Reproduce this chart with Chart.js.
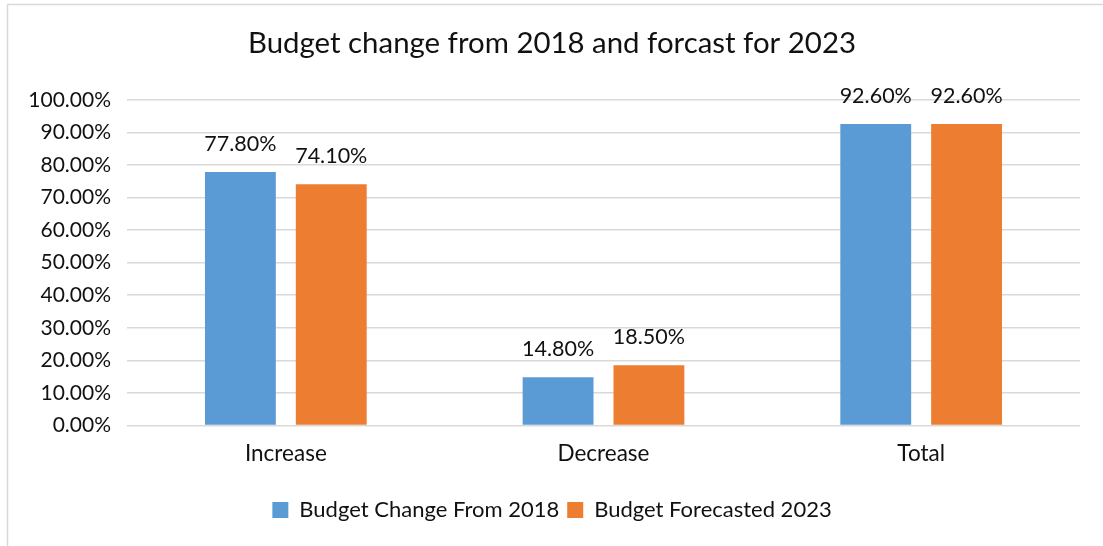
<!DOCTYPE html>
<html>
<head>
<meta charset="utf-8">
<script src="https://cdn.jsdelivr.net/npm/chart.js@4.4.1/dist/chart.umd.min.js"></script>
<style>
  html, body { margin: 0; padding: 0; background: #fff; }
  #wrap { width: 1103px; height: 546px; position: relative; }
</style>
</head>
<body>
<div id="wrap"><canvas id="c" width="1103" height="546"></canvas></div>
<script>
const categories = ['Increase', 'Decrease', 'Total'];
const changeFrom2018 = [77.8, 14.8, 92.6];
const forecast2023 = [74.1, 18.5, 92.6];
const seriesNames = ['Budget Change From 2018', 'Budget Forecasted 2023'];
const titleText = 'Budget change from 2018 and forcast for 2023';

const FONT = 'Lato, "Open Sans", sans-serif';
const TEXT = '#111';

// value labels above each bar
const valueLabels = {
  id: 'valueLabels',
  afterDatasetsDraw(chart) {
    const ctx = chart.ctx;
    ctx.save();
    ctx.font = '21.5px ' + FONT;
    ctx.fillStyle = TEXT;
    ctx.textAlign = 'center';
    ctx.textBaseline = 'middle';
    chart.data.datasets.forEach((ds, i) => {
      chart.getDatasetMeta(i).data.forEach((bar, j) => {
        ctx.fillText(ds.data[j].toFixed(2) + '%', bar.x, bar.y - 28);
      });
    });
    ctx.restore();
  }
};

// light frame round the chart
const frame = {
  id: 'frame',
  beforeDraw(chart) {
    const ctx = chart.ctx;
    ctx.save();
    ctx.strokeStyle = '#d9d9d9';
    ctx.lineWidth = 1.5;
    ctx.strokeRect(7.5, 4.5, chart.width + 10, chart.height + 10);
    ctx.restore();
  }
};

new Chart(document.getElementById('c'), {
  type: 'bar',
  data: {
    labels: categories,
    datasets: [
      { label: seriesNames[0], data: changeFrom2018, backgroundColor: '#5b9bd5',
        categoryPercentage: 0.572, barPercentage: 0.78 },
      { label: seriesNames[1], data: forecast2023, backgroundColor: '#ed7d31',
        categoryPercentage: 0.572, barPercentage: 0.78 }
    ]
  },
  options: {
    responsive: false,
    animation: false,
    layout: { padding: { left: 24, right: 23, top: 0, bottom: 15 } },
    plugins: {
      title: {
        display: true, text: titleText, color: TEXT,
        font: { family: FONT, size: 29.4, weight: 'normal' },
        padding: { top: 26, bottom: 38.5 }
      },
      legend: {
        position: 'bottom',
        labels: {
          color: TEXT, font: { family: FONT, size: 22 },
          boxWidth: 16, boxHeight: 16, padding: 8
        }
      },
      tooltip: { enabled: false }
    },
    scales: {
      x: {
        grid: { display: false },
        border: { display: false },
        ticks: { color: TEXT, font: { family: FONT, size: 22.5 }, padding: 7 },
        afterFit(s) { s.height = 65.5; }
      },
      y: {
        min: 0, max: 100,
        grid: { color: '#d9d9d9', lineWidth: 1.5, drawTicks: false },
        border: { display: false },
        ticks: {
          stepSize: 10, color: TEXT, font: { family: FONT, size: 21 }, padding: 16,
          callback: v => v.toFixed(2) + '%'
        },
        afterFit(s) { s.width = 103; }
      }
    }
  },
  plugins: [valueLabels, frame]
});
</script>
</body>
</html>
